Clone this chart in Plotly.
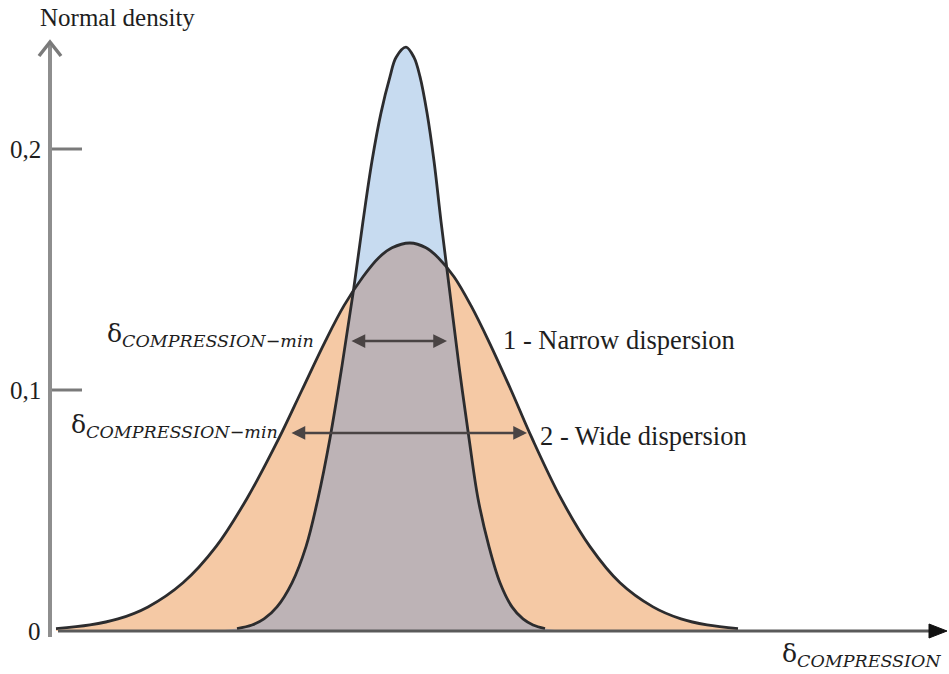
import numpy as np
import plotly.graph_objects as go

# ---------------- data ----------------
# narrow dispersion curve (1): delta (arbitrary units) vs normal density
narrow_x = [18.7, 20.2, 21.4, 22.7, 24.2, 25.6, 26.8, 28.0, 29.2, 30.3, 31.3, 32.2, 33.1,
            34.0, 34.6, 35.6,
            36.4, 37.0, 37.7, 38.4, 39.1, 40.0, 40.9, 41.9, 42.8, 43.9, 45.0, 46.2, 47.3,
            48.3, 49.5]
narrow_y = [0.0010, 0.0025, 0.0050, 0.0100, 0.0200, 0.0350, 0.0550, 0.0800, 0.1100, 0.1400,
            0.1700, 0.1950, 0.2150, 0.2300, 0.2380, 0.2423,
            0.2380, 0.2300, 0.2150, 0.1950, 0.1700, 0.1400, 0.1100, 0.0800, 0.0550, 0.0350,
            0.0200, 0.0100, 0.0050, 0.0025, 0.0010]

# wide dispersion curve (2)
wide_x = [0.6, 4.0, 6.8, 9.8, 13.3, 16.6, 19.7, 22.9, 25.2, 27.5, 29.4, 31.3, 32.9, 34.2,
          36.0,
          37.6, 38.8, 40.4, 42.1, 43.9, 46.1, 48.2, 51.1, 54.0, 57.0, 60.3, 63.1, 65.7, 68.8]
wide_y = [0.0010, 0.0025, 0.0050, 0.0100, 0.0200, 0.0350, 0.0550, 0.0800, 0.1000, 0.1200,
          0.1350, 0.1470, 0.1550, 0.1590,
          0.1610,
          0.1590, 0.1550, 0.1470, 0.1350, 0.1200, 0.1000, 0.0800, 0.0550, 0.0350, 0.0200,
          0.0100, 0.0050, 0.0025, 0.0010]

# tolerance intervals shown with double arrows (delta from, delta to, density level)
narrow_interval = [30.0, 39.7, 0.1203]
wide_interval = [24.0, 47.7, 0.0822]

tick_vals = [0, 0.1, 0.2]
tick_text = ["0", "0,1", "0,2"]

y_title = "Normal density"
sub_style = "font-size:17.5px"
x_title = f"δ<sub><span style='{sub_style}'><i>COMPRESSION</i></span></sub>"
min_label = f"δ<sub><span style='{sub_style}'><i>COMPRESSION−min</i></span></sub>"
label_1 = "1 - Narrow dispersion"
label_2 = "2 - Wide dispersion"

# ---------------- geometry helpers (pixel -> data) ----------------
W, H = 949, 674
def X(px):
    return (px - 50) / 10.0
def Y(py):
    return (631 - py) / 2410.0

BLUE = "#c7dbf0"
ORANGE = "#f5c9a5"
GREY = "#bdb3b6"
LINE = "#2c2c2e"
TXT = "#1e1e1e"

fig = go.Figure()

# fills
fig.add_trace(go.Scatter(x=wide_x, y=wide_y, mode="lines", line=dict(width=0, shape="spline"),
                         fill="tozeroy", fillcolor=ORANGE, hoverinfo="skip", showlegend=False))
fig.add_trace(go.Scatter(x=narrow_x, y=narrow_y, mode="lines", line=dict(width=0, shape="spline"),
                         fill="tozeroy", fillcolor=BLUE, hoverinfo="skip", showlegend=False))
grid = np.union1d(np.union1d(narrow_x, wide_x), np.linspace(min(narrow_x), max(narrow_x), 400))
ov = np.minimum(np.interp(grid, narrow_x, narrow_y, left=0, right=0),
                np.interp(grid, wide_x, wide_y, left=0, right=0))
fig.add_trace(go.Scatter(x=grid, y=ov, mode="lines", line=dict(width=0),
                         fill="tozeroy", fillcolor=GREY, hoverinfo="skip", showlegend=False))
# outlines
fig.add_trace(go.Scatter(x=wide_x, y=wide_y, mode="lines",
                         line=dict(width=2.8, color=LINE, shape="spline"), showlegend=False))
fig.add_trace(go.Scatter(x=narrow_x, y=narrow_y, mode="lines",
                         line=dict(width=2.8, color=LINE, shape="spline"), showlegend=False))

shapes = []
# y axis line + chevron
shapes.append(dict(type="line", x0=X(50), x1=X(50), y0=Y(637), y1=Y(43),
                   line=dict(color="#8e8e8e", width=4)))
shapes.append(dict(type="path",
                   path=f"M {X(39)} {Y(56)} L {X(50)} {Y(42)} L {X(61)} {Y(56)}",
                   line=dict(color="#7a7a7a", width=3.5)))
# x axis line + arrow head
shapes.append(dict(type="line", x0=X(58), x1=X(932), y0=0, y1=0,
                   line=dict(color="#5a5a5a", width=3)))
shapes.append(dict(type="path",
                   path=f"M {X(929)} {Y(624)} L {X(947)} {Y(631)} L {X(929)} {Y(638)} Z",
                   fillcolor="#111111", line=dict(color="#111111", width=1)))
# y ticks
for v in tick_vals[1:]:
    shapes.append(dict(type="line", x0=X(52), x1=X(82), y0=v, y1=v,
                       line=dict(color="#7a7a7a", width=3)))

annotations = []
for v, t in zip(tick_vals, tick_text):
    annotations.append(dict(x=X(43), y=v, text=t, showarrow=False, xanchor="right",
                            yanchor="middle", font=dict(family="Liberation Serif", size=25, color=TXT)))
annotations.append(dict(x=X(38), y=Y(17), text=y_title, showarrow=False, xanchor="left",
                        yanchor="middle", font=dict(family="Liberation Serif", size=25, color=TXT)))
annotations.append(dict(x=X(943), y=Y(655), text=x_title, showarrow=False, xanchor="right",
                        yanchor="middle", font=dict(family="DejaVu Serif", size=25, color=TXT)))
annotations.append(dict(x=X(316), y=Y(335), text=min_label, showarrow=False, xanchor="right",
                        yanchor="middle", font=dict(family="DejaVu Serif", size=25, color=TXT)))
annotations.append(dict(x=X(280), y=Y(426), text=min_label, showarrow=False, xanchor="right",
                        yanchor="middle", font=dict(family="DejaVu Serif", size=25, color=TXT)))
annotations.append(dict(x=X(501), y=Y(340), text=label_1, showarrow=False, xanchor="left",
                        yanchor="middle", font=dict(family="Liberation Serif", size=26.5, color=TXT)))
annotations.append(dict(x=X(538), y=Y(436), text=label_2, showarrow=False, xanchor="left",
                        yanchor="middle", font=dict(family="Liberation Serif", size=26.5, color=TXT)))
# double arrows
for (a, b, lvl) in [narrow_interval, wide_interval]:
    annotations.append(dict(x=b, y=lvl, ax=a, ay=lvl, xref="x", yref="y", axref="x", ayref="y",
                            text="", showarrow=True, arrowside="end+start", arrowhead=2,
                            arrowsize=1.1, arrowwidth=2.5, arrowcolor="#4a4444"))

fig.update_layout(
    width=W, height=H, margin=dict(l=0, r=0, t=0, b=0),
    paper_bgcolor="white", plot_bgcolor="white",
    xaxis=dict(range=[X(0), X(W)], visible=False, fixedrange=True),
    yaxis=dict(range=[Y(H), Y(0)], visible=False, fixedrange=True),
    shapes=shapes, annotations=annotations, showlegend=False,
)
fig.write_html("out.html", config={"displayModeBar": False},
               post_script="document.body.style.margin='0';document.body.style.overflow='hidden';")
